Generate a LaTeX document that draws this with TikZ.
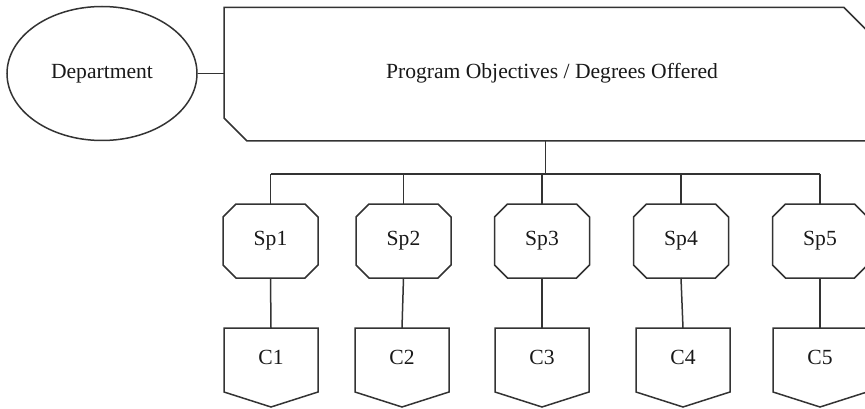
\documentclass[tikz,border=0pt]{standalone}
\usepackage{fontspec}
\setmainfont{Liberation Serif}
\usetikzlibrary{shapes.geometric}
\begin{document}
\begin{tikzpicture}[x=1pt,y=-1pt,
  every node/.style={font=\fontsize{21.6}{26}\selectfont, text=black!90},
  outline/.style={draw=black!80, line width=1.5pt, line join=miter},
  link/.style={draw=black!80, line width=1.5pt},
  frame/.style={inner sep=0pt, outer sep=0pt, draw=none, rectangle},
  spbox/.style={frame, minimum width=95pt, minimum height=74pt},
  cbox/.style={frame, minimum width=94pt, minimum height=79pt},
]
\useasboundingbox (0,0) rectangle (865,409);
\clip (0,0) rectangle (865,409);

% department ellipse
\node[ellipse, outline, minimum width=190pt, minimum height=134pt, inner sep=0pt] (dept) at (102,73.5) {Department};

% program banner (two chamfered corners)
\node[frame, minimum width=643pt, minimum height=133.5pt] (prog) at (545.5,74.25) {};
\node at (552,73) {Program Objectives / Degrees Offered};
\draw[outline] (prog.north west) -- ([xshift=-23pt]prog.north east)
  -- ([yshift=-23pt]prog.north east) -- (prog.south east)
  -- ([xshift=23pt]prog.south west) -- ([yshift=23pt]prog.south west) -- cycle;

% specialisation boxes
\node[spbox] (sp1) at (270.5,241) {Sp1};
\node[spbox] (sp2) at (403.5,241) {Sp2};
\node[spbox] (sp3) at (542,241) {Sp3};
\node[spbox] (sp4) at (681,241) {Sp4};
\node[spbox] (sp5) at (820,241) {Sp5};
\foreach \n in {sp1,sp2,sp3,sp4,sp5}{
  \draw[outline] ([xshift=13pt]\n.north west) -- ([xshift=-13pt]\n.north east)
    -- ([yshift=-13pt]\n.north east) -- ([yshift=13pt]\n.south east)
    -- ([xshift=-13pt]\n.south east) -- ([xshift=13pt]\n.south west)
    -- ([yshift=13pt]\n.south west) -- ([yshift=-13pt]\n.north west) -- cycle;
}

% course boxes (pointed bottom)
\node[cbox] (c1) at (271,367.5) {};
\node[cbox] (c2) at (402,367.5) {};
\node[cbox] (c3) at (542,367.5) {};
\node[cbox] (c4) at (683,367.5) {};
\node[cbox] (c5) at (820,367.5) {};
\foreach \n/\t in {c1/C1,c2/C2,c3/C3,c4/C4,c5/C5}{
  \draw[outline] (\n.north west) -- (\n.north east)
    -- ([yshift=15pt]\n.south east) -- (\n.south)
    -- ([yshift=15pt]\n.south west) -- cycle;
  \node at ([yshift=-29pt]\n.north) {\t};
}

% connectors
\coordinate (bus) at (0,174);
\draw[link] (dept.east) -- (dept.east -| prog.west);
\draw[link] (prog.south) -- (prog.south |- bus);
\draw[link] (sp1.north |- bus) -- (sp5.north |- bus);
\foreach \n in {sp1,sp2,sp3,sp4,sp5}{
  \draw[link] (\n.north |- bus) -- (\n.north);
}
\draw[link] (sp1.south) -- (c1.north);
\draw[link] (sp2.south) -- (c2.north);
\draw[link] (sp3.south) -- (c3.north);
\draw[link] (sp4.south) -- (c4.north);
\draw[link] (sp5.south) -- (c5.north);
\end{tikzpicture}
\end{document}
